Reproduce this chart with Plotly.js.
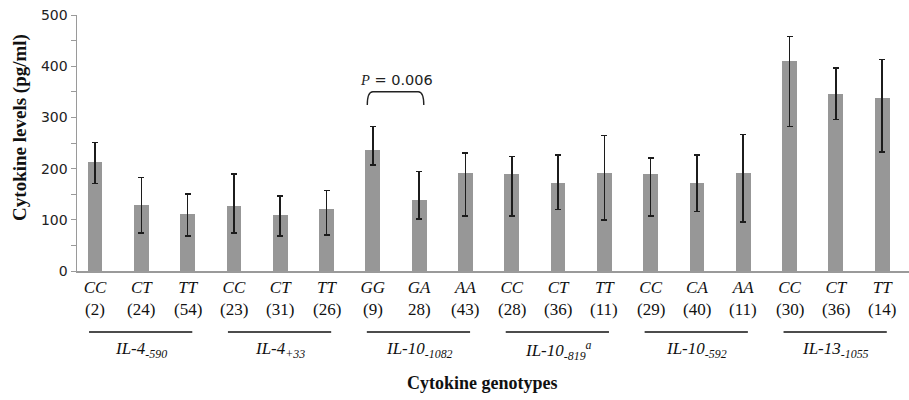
<!DOCTYPE html>
<html>
<head>
<meta charset="utf-8">
<script src="https://cdn.plot.ly/plotly-3.0.1.min.js"></script>
<style>html,body{margin:0;padding:0;background:#fff;}#chart{width:909px;height:400px;}</style>
</head>
<body>
<div id="chart"></div>
<script>
// ---- data ----
const genotypes = ["CC","CT","TT","CC","CT","TT","GG","GA","AA","CC","CT","TT","CC","CA","AA","CC","CT","TT"];
const counts = ["(2)","(24)","(54)","(23)","(31)","(26)","(9)","28)","(43)","(28)","(36)","(11)","(29)","(40)","(11)","(30)","(36)","(14)"];
const means = [212,129,112,126,110,121,236,139,192,190,171,192,190,171,192,411,346,338];
const errUpper = [251,183,150,190,146,157,282,194,231,224,227,265,221,227,267,458,397,413];
const errLower = [171,74,68,74,68,70,207,102,107,107,120,100,107,116,96,282,296,233];
const groupNames = ["IL-4<sub>-590</sub>","IL-4<sub>+33</sub>","IL-10<sub>-1082</sub>","IL-10<sub>-819</sub><sup>a</sup>","IL-10<sub>-592</sub>","IL-13<sub>-1055</sub>"];
const groupSizes = [3,3,3,3,3,3];
const yTicks = [0,100,200,300,400,500];
const pValueText = "<i style='font-family:Liberation Serif'>P</i> = 0.006";
const pPair = [6,7];

const idx = genotypes.map((_, i) => i);
const plus = means.map((m, i) => errUpper[i] - m);
const minus = means.map((m, i) => m - errLower[i]);

const trace = {
  type: "bar",
  x: idx,
  y: means,
  width: 0.32,
  marker: {color: "#979797", line: {width: 0}},
  error_y: {type: "data", symmetric: false, array: plus, arrayminus: minus,
            color: "#1c1c1c", thickness: 1.6, width: 3},
  hoverinfo: "skip"
};

const annotations = [];
const shapes = [];
const serif = "Liberation Serif";

// counts row
idx.forEach(i => annotations.push({
  x: i, xref: "x", y: -0.152, yref: "paper", text: counts[i], showarrow: false,
  font: {family: serif, size: 17, color: "#111"}, xanchor: "center", yanchor: "middle"
}));

// groups
let start = 0;
groupNames.forEach((g, k) => {
  const first = start, last = start + groupSizes[k] - 1;
  shapes.push({type: "line", xref: "x", yref: "paper", x0: first - 0.13, x1: last + 0.1,
               y0: -0.238, y1: -0.238, line: {color: "#111", width: 1.4}});
  annotations.push({x: (first + last) / 2, xref: "x", y: -0.309, yref: "paper",
    text: "<i>" + g + "</i>", showarrow: false, xanchor: "center", yanchor: "middle",
    font: {family: serif, size: 17, color: "#111"}});
  start += groupSizes[k];
});

// P bracket
const bx0 = pPair[0] - 0.12, bx1 = pPair[1] + 0.1, by0 = 324, by1 = 350;
shapes.push({type: "path", xref: "x", yref: "y",
  path: `M ${bx0},${by0} Q ${bx0},${by1} ${bx0 + 0.12},${by1} L ${bx1 - 0.12},${by1} Q ${bx1},${by1} ${bx1},${by0}`,
  line: {color: "#222", width: 1.4}});
annotations.push({x: (pPair[0] + pPair[1]) / 2, xref: "x", y: 373, yref: "y", text: pValueText,
  showarrow: false, xanchor: "center", yanchor: "middle",
  font: {family: "DejaVu Sans", size: 14.5, color: "#222"}});

// axis titles
annotations.push({x: -0.0685, xref: "paper", y: 0.559, yref: "paper", text: "<b>Cytokine levels (pg/ml)</b>",
  textangle: -90, showarrow: false, xanchor: "center", yanchor: "middle",
  font: {family: serif, size: 19, color: "#111"}});
annotations.push({x: 0.487, xref: "paper", y: -0.4375, yref: "paper", text: "<b>Cytokine genotypes</b>",
  showarrow: false, xanchor: "center", yanchor: "middle",
  font: {family: serif, size: 18, color: "#111"}});

const layout = {
  width: 909, height: 400,
  margin: {l: 77, r: 0, t: 15, b: 129, pad: 0},
  paper_bgcolor: "#fff", plot_bgcolor: "#fff",
  showlegend: false,
  bargap: 0,
  xaxis: {
    type: "linear", range: [-0.39, 17.58], tickmode: "array", tickvals: idx,
    ticktext: genotypes.map(g => "<i>" + g + "</i>"),
    ticks: "", showgrid: false, zeroline: false,
    showline: true, linecolor: "#9a9a9a", linewidth: 2,
    tickfont: {family: serif, size: 17, color: "#111"}, fixedrange: true
  },
  yaxis: {
    range: [0, 500], tickmode: "array", tickvals: yTicks, ticktext: yTicks.map(String),
    ticks: "outside", ticklen: 5, tickcolor: "#9a9a9a", tickwidth: 1,
    minor: {dtick: 50, ticks: "outside", ticklen: 5, tickcolor: "#9a9a9a", tickwidth: 1, showgrid: false},
    showgrid: false, zeroline: false, showline: true, linecolor: "#9a9a9a", linewidth: 1.5,
    tickfont: {family: "DejaVu Sans", size: 14, color: "#222"}, fixedrange: true
  },
  shapes: shapes,
  annotations: annotations
};

Plotly.newPlot("chart", [trace], layout, {displayModeBar: false, staticPlot: true});
</script>
</body>
</html>
